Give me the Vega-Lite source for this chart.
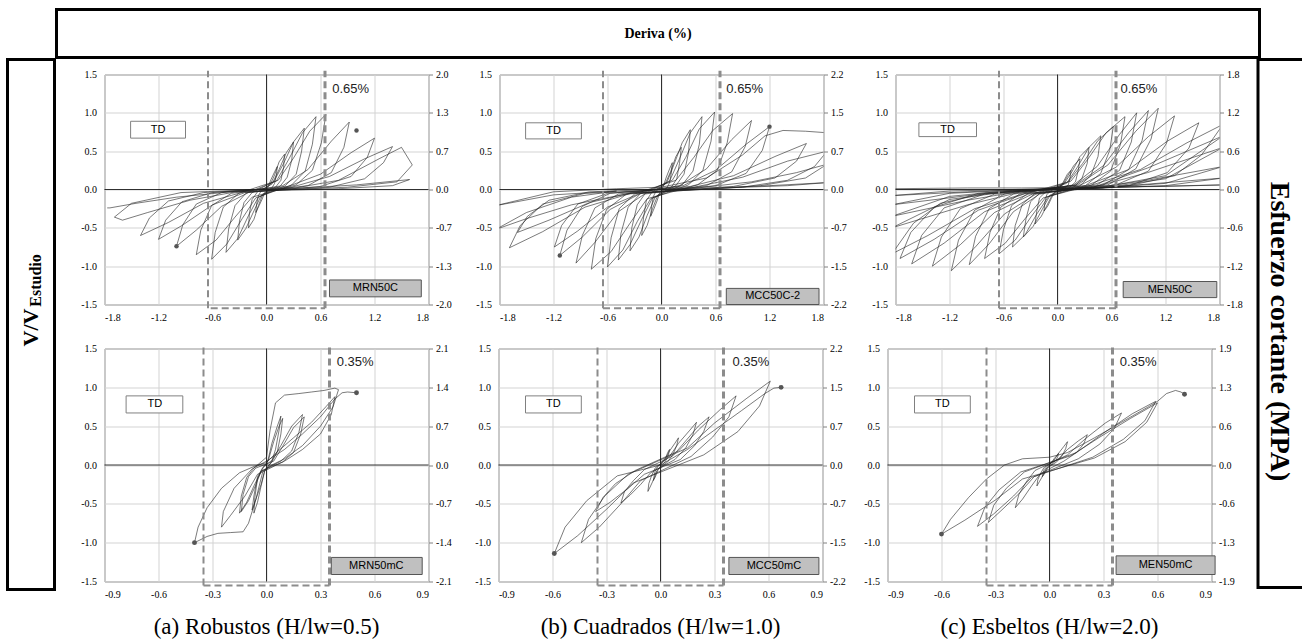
{
"$schema": "https://vega.github.io/schema/vega-lite/v6.json",
"padding": {"left": 5.5, "top": 7.5, "right": 0, "bottom": 0},
"spacing": -3,
"config": {
  "view": {"stroke": null},
  "font": "Liberation Serif",
  "axis": {"labelFont": "Liberation Serif", "labelFontSize": 10, "labelColor": "#000", "ticks": false, "domain": false, "gridColor": "#d3d3d3", "gridWidth": 1, "labelPadding": 8, "labelOverlap": false, "titleFontSize": 0.1},
  "title": {"font": "Liberation Serif", "fontWeight": "normal", "color": "#000"}
},
"datasets": {
"a1": [{"x":0,"y":0},
{"x":0.02,"y":0.04},{"x":0.05,"y":0.13},{"x":0.09,"y":0.23},{"x":0.12,"y":0.30},{"x":0.11,"y":0.19},{"x":0.09,"y":0.08},{"x":0.06,"y":0.02},
{"x":-0.02,"y":-0.04},{"x":-0.05,"y":-0.13},{"x":-0.09,"y":-0.23},{"x":-0.12,"y":-0.30},{"x":-0.11,"y":-0.19},{"x":-0.09,"y":-0.08},{"x":-0.06,"y":-0.02},
{"x":0.04,"y":0.06},{"x":0.09,"y":0.19},{"x":0.14,"y":0.36},{"x":0.20,"y":0.46},{"x":0.19,"y":0.29},{"x":0.16,"y":0.12},{"x":0.10,"y":0.03},
{"x":-0.04,"y":-0.06},{"x":-0.09,"y":-0.21},{"x":-0.14,"y":-0.39},{"x":-0.20,"y":-0.50},{"x":-0.19,"y":-0.31},{"x":-0.16,"y":-0.13},{"x":-0.10,"y":-0.03},
{"x":0.06,"y":0.07},{"x":0.14,"y":0.26},{"x":0.22,"y":0.48},{"x":0.30,"y":0.62},{"x":0.28,"y":0.38},{"x":0.23,"y":0.16},{"x":0.15,"y":0.04},
{"x":-0.06,"y":-0.08},{"x":-0.14,"y":-0.28},{"x":-0.23,"y":-0.51},{"x":-0.32,"y":-0.66},{"x":-0.30,"y":-0.41},{"x":-0.25,"y":-0.17},{"x":-0.16,"y":-0.04},
{"x":0.08,"y":0.10},{"x":0.19,"y":0.34},{"x":0.30,"y":0.62},{"x":0.42,"y":0.80},{"x":0.39,"y":0.50},{"x":0.33,"y":0.20},{"x":0.21,"y":0.05},
{"x":-0.09,"y":-0.10},{"x":-0.20,"y":-0.34},{"x":-0.32,"y":-0.64},{"x":-0.45,"y":-0.82},{"x":-0.42,"y":-0.51},{"x":-0.35,"y":-0.21},{"x":-0.23,"y":-0.05},
{"x":0.11,"y":0.11},{"x":0.25,"y":0.40},{"x":0.40,"y":0.74},{"x":0.55,"y":0.95},{"x":0.51,"y":0.59},{"x":0.43,"y":0.24},{"x":0.28,"y":0.06},
{"x":-0.12,"y":-0.11},{"x":-0.27,"y":-0.38},{"x":-0.44,"y":-0.71},{"x":-0.61,"y":-0.91},{"x":-0.57,"y":-0.56},{"x":-0.48,"y":-0.23},{"x":-0.31,"y":-0.05},
{"x":0.13,"y":0.12},{"x":0.30,"y":0.41},{"x":0.48,"y":0.76},{"x":0.66,"y":0.98},{"x":0.61,"y":0.61},{"x":0.51,"y":0.25},{"x":0.33,"y":0.06},
{"x":-0.16,"y":-0.10},{"x":-0.35,"y":-0.36},{"x":-0.56,"y":-0.66},{"x":-0.78,"y":-0.85},{"x":-0.73,"y":-0.53},{"x":-0.61,"y":-0.21},{"x":-0.39,"y":-0.05},
{"x":0.18,"y":0.05},{"x":0.46,"y":0.26},{"x":0.72,"y":0.63},{"x":0.92,"y":0.88},{"x":0.86,"y":0.55},{"x":0.72,"y":0.22},{"x":0.46,"y":0.05},
{"x":-0.20,"y":-0.04},{"x":-0.50,"y":-0.22},{"x":-0.78,"y":-0.53},{"x":-1.00,"y":-0.74},{"x":-0.93,"y":-0.46},{"x":-0.78,"y":-0.19},{"x":-0.50,"y":-0.04},
{"x":0.24,"y":0.04},{"x":0.60,"y":0.20},{"x":0.94,"y":0.48},{"x":1.20,"y":0.67},{"x":1.12,"y":0.42},{"x":0.94,"y":0.17},{"x":0.60,"y":0.04},
{"x":-0.24,"y":-0.04},{"x":-0.60,"y":-0.20},{"x":-0.94,"y":-0.47},{"x":-1.20,"y":-0.65},{"x":-1.12,"y":-0.40},{"x":-0.94,"y":-0.16},{"x":-0.60,"y":-0.04},
{"x":0.28,"y":0.03},{"x":0.70,"y":0.17},{"x":1.09,"y":0.40},{"x":1.40,"y":0.56},{"x":1.30,"y":0.35},{"x":1.09,"y":0.14},{"x":0.70,"y":0.03},
{"x":-0.28,"y":-0.04},{"x":-0.70,"y":-0.18},{"x":-1.09,"y":-0.43},{"x":-1.40,"y":-0.60},{"x":-1.30,"y":-0.37},{"x":-1.09,"y":-0.15},{"x":-0.70,"y":-0.04},
{"x":0.32,"y":0.02},{"x":0.80,"y":0.12},{"x":1.25,"y":0.40},{"x":1.50,"y":0.55},{"x":1.62,"y":0.32},{"x":1.45,"y":0.10},{"x":0.90,"y":0.03},
{"x":-0.34,"y":-0.03},{"x":-0.85,"y":-0.14},{"x":-1.32,"y":-0.30},{"x":-1.60,"y":-0.40},{"x":-1.69,"y":-0.36},{"x":-1.50,"y":-0.18},{"x":-0.95,"y":-0.04},
{"x":0.40,"y":0.02},{"x":1.00,"y":0.06},{"x":1.59,"y":0.13},{"x":1.40,"y":0.05},{"x":0.80,"y":0.01},
{"x":-0.40,"y":-0.03},{"x":-1.00,"y":-0.10},{"x":-1.45,"y":-0.18},{"x":-1.74,"y":-0.24},{"x":-1.77,"y":-0.24}],
"a1d": [{"x":1.0,"y":0.77},{"x":-1.0,"y":-0.74}],
"a2": [{"x":0,"y":0},
{"x":0.02,"y":0.04},{"x":0.05,"y":0.15},{"x":0.09,"y":0.27},{"x":0.12,"y":0.35},{"x":0.11,"y":0.22},{"x":0.09,"y":0.09},{"x":0.06,"y":0.02},
{"x":-0.02,"y":-0.04},{"x":-0.05,"y":-0.15},{"x":-0.09,"y":-0.27},{"x":-0.12,"y":-0.35},{"x":-0.11,"y":-0.22},{"x":-0.09,"y":-0.09},{"x":-0.06,"y":-0.02},
{"x":0.04,"y":0.07},{"x":0.10,"y":0.23},{"x":0.16,"y":0.43},{"x":0.22,"y":0.55},{"x":0.20,"y":0.34},{"x":0.17,"y":0.14},{"x":0.11,"y":0.03},
{"x":-0.04,"y":-0.07},{"x":-0.10,"y":-0.25},{"x":-0.16,"y":-0.47},{"x":-0.22,"y":-0.60},{"x":-0.20,"y":-0.37},{"x":-0.17,"y":-0.15},{"x":-0.11,"y":-0.04},
{"x":0.06,"y":0.09},{"x":0.14,"y":0.33},{"x":0.23,"y":0.61},{"x":0.32,"y":0.78},{"x":0.30,"y":0.48},{"x":0.25,"y":0.20},{"x":0.16,"y":0.05},
{"x":-0.07,"y":-0.10},{"x":-0.16,"y":-0.34},{"x":-0.25,"y":-0.62},{"x":-0.35,"y":-0.80},{"x":-0.33,"y":-0.50},{"x":-0.27,"y":-0.20},{"x":-0.18,"y":-0.05},
{"x":0.09,"y":0.11},{"x":0.20,"y":0.40},{"x":0.32,"y":0.74},{"x":0.45,"y":0.95},{"x":0.42,"y":0.59},{"x":0.35,"y":0.24},{"x":0.23,"y":0.06},
{"x":-0.10,"y":-0.11},{"x":-0.22,"y":-0.39},{"x":-0.35,"y":-0.72},{"x":-0.48,"y":-0.92},{"x":-0.45,"y":-0.57},{"x":-0.37,"y":-0.23},{"x":-0.24,"y":-0.06},
{"x":0.12,"y":0.12},{"x":0.27,"y":0.42},{"x":0.42,"y":0.79},{"x":0.59,"y":1.01},{"x":0.55,"y":0.63},{"x":0.46,"y":0.25},{"x":0.30,"y":0.06},
{"x":-0.12,"y":-0.12},{"x":-0.27,"y":-0.42},{"x":-0.43,"y":-0.79},{"x":-0.60,"y":-1.01},{"x":-0.56,"y":-0.63},{"x":-0.47,"y":-0.25},{"x":-0.30,"y":-0.06},
{"x":0.16,"y":0.12},{"x":0.36,"y":0.42},{"x":0.57,"y":0.77},{"x":0.79,"y":0.99},{"x":0.73,"y":0.61},{"x":0.62,"y":0.25},{"x":0.40,"y":0.06},
{"x":-0.16,"y":-0.12},{"x":-0.35,"y":-0.44},{"x":-0.56,"y":-0.81},{"x":-0.78,"y":-1.04},{"x":-0.73,"y":-0.64},{"x":-0.61,"y":-0.26},{"x":-0.39,"y":-0.06},
{"x":0.20,"y":0.05},{"x":0.50,"y":0.27},{"x":0.78,"y":0.65},{"x":1.00,"y":0.90},{"x":0.93,"y":0.56},{"x":0.78,"y":0.23},{"x":0.50,"y":0.05},
{"x":-0.19,"y":-0.06},{"x":-0.48,"y":-0.29},{"x":-0.74,"y":-0.69},{"x":-0.95,"y":-0.96},{"x":-0.88,"y":-0.60},{"x":-0.74,"y":-0.24},{"x":-0.48,"y":-0.06},
{"x":0.24,"y":0.05},{"x":0.60,"y":0.25},{"x":0.94,"y":0.59},{"x":1.20,"y":0.82},{"x":1.12,"y":0.51},{"x":0.94,"y":0.21},{"x":0.60,"y":0.05},
{"x":-0.23,"y":-0.05},{"x":-0.57,"y":-0.26},{"x":-0.88,"y":-0.62},{"x":-1.13,"y":-0.86},{"x":-1.05,"y":-0.53},{"x":-0.88,"y":-0.22},{"x":-0.57,"y":-0.05},
{"x":0.32,"y":0.04},{"x":0.80,"y":0.18},{"x":1.26,"y":0.43},{"x":1.61,"y":0.60},{"x":1.50,"y":0.37},{"x":1.26,"y":0.15},{"x":0.80,"y":0.04},
{"x":-0.24,"y":-0.05},{"x":-0.60,"y":-0.23},{"x":-0.93,"y":-0.54},{"x":-1.19,"y":-0.75},{"x":-1.11,"y":-0.47},{"x":-0.93,"y":-0.19},{"x":-0.60,"y":-0.05},
{"x":0.36,"y":0.03},{"x":0.90,"y":0.16},{"x":1.40,"y":0.37},{"x":1.84,"y":0.50},{"x":1.70,"y":0.30},{"x":1.40,"y":0.12},{"x":0.90,"y":0.03},
{"x":-0.32,"y":-0.04},{"x":-0.80,"y":-0.17},{"x":-1.25,"y":-0.40},{"x":-1.60,"y":-0.56},{"x":-1.49,"y":-0.35},{"x":-1.25,"y":-0.14},{"x":-0.80,"y":-0.03},
{"x":0.40,"y":0.02},{"x":1.00,"y":0.10},{"x":1.50,"y":0.22},{"x":1.84,"y":0.33},{"x":1.60,"y":0.15},{"x":1.10,"y":0.05},{"x":0.60,"y":0.01},
{"x":-0.34,"y":-0.05},{"x":-0.85,"y":-0.23},{"x":-1.32,"y":-0.55},{"x":-1.69,"y":-0.76},{"x":-1.57,"y":-0.47},{"x":-1.32,"y":-0.19},{"x":-0.85,"y":-0.05},
{"x":0.50,"y":0.02},{"x":1.20,"y":0.05},{"x":1.84,"y":0.09},{"x":1.40,"y":0.05},{"x":0.70,"y":0.02},
{"x":-0.40,"y":-0.06},{"x":-1.00,"y":-0.20},{"x":-1.50,"y":-0.38},{"x":-1.84,"y":-0.52},{"x":-1.50,"y":-0.30},{"x":-1.00,"y":-0.10},{"x":-0.50,"y":-0.02},
{"x":-1.20,"y":-0.07},{"x":-1.84,"y":-0.21},{"x":-1.20,"y":-0.03},{"x":-0.50,"y":0.01},{"x":0.00,"y":0.03},{"x":0.50,"y":0.15},{"x":0.90,"y":0.45},{"x":1.15,"y":0.70},{"x":1.35,"y":0.77},{"x":1.60,"y":0.76},{"x":1.84,"y":0.74}],
"a2d": [{"x":1.2,"y":0.82},{"x":-1.13,"y":-0.86}],
"a3": [{"x":0,"y":0},
{"x":0.03,"y":0.03},{"x":0.07,"y":0.11},{"x":0.11,"y":0.20},{"x":0.15,"y":0.25},{"x":0.14,"y":0.16},{"x":0.12,"y":0.06},{"x":0.08,"y":0.02},
{"x":-0.03,"y":-0.03},{"x":-0.07,"y":-0.12},{"x":-0.11,"y":-0.22},{"x":-0.15,"y":-0.28},{"x":-0.14,"y":-0.17},{"x":-0.12,"y":-0.07},{"x":-0.08,"y":-0.02},
{"x":0.05,"y":0.05},{"x":0.11,"y":0.17},{"x":0.18,"y":0.31},{"x":0.25,"y":0.40},{"x":0.23,"y":0.25},{"x":0.20,"y":0.10},{"x":0.13,"y":0.02},
{"x":-0.05,"y":-0.05},{"x":-0.11,"y":-0.19},{"x":-0.18,"y":-0.35},{"x":-0.25,"y":-0.45},{"x":-0.23,"y":-0.28},{"x":-0.20,"y":-0.11},{"x":-0.13,"y":-0.03},
{"x":0.07,"y":0.07},{"x":0.16,"y":0.23},{"x":0.25,"y":0.43},{"x":0.35,"y":0.55},{"x":0.33,"y":0.34},{"x":0.27,"y":0.14},{"x":0.18,"y":0.03},
{"x":-0.08,"y":-0.07},{"x":-0.17,"y":-0.26},{"x":-0.27,"y":-0.48},{"x":-0.38,"y":-0.62},{"x":-0.35,"y":-0.38},{"x":-0.30,"y":-0.16},{"x":-0.19,"y":-0.04},
{"x":0.10,"y":0.08},{"x":0.22,"y":0.29},{"x":0.35,"y":0.55},{"x":0.48,"y":0.70},{"x":0.45,"y":0.43},{"x":0.37,"y":0.18},{"x":0.24,"y":0.04},
{"x":-0.10,"y":-0.09},{"x":-0.23,"y":-0.32},{"x":-0.36,"y":-0.59},{"x":-0.50,"y":-0.75},{"x":-0.47,"y":-0.47},{"x":-0.39,"y":-0.19},{"x":-0.25,"y":-0.05},
{"x":0.12,"y":0.10},{"x":0.28,"y":0.34},{"x":0.45,"y":0.64},{"x":0.62,"y":0.82},{"x":0.58,"y":0.51},{"x":0.48,"y":0.21},{"x":0.31,"y":0.05},
{"x":-0.13,"y":-0.10},{"x":-0.29,"y":-0.35},{"x":-0.47,"y":-0.66},{"x":-0.65,"y":-0.84},{"x":-0.60,"y":-0.52},{"x":-0.51,"y":-0.21},{"x":-0.33,"y":-0.05},
{"x":0.15,"y":0.11},{"x":0.34,"y":0.40},{"x":0.54,"y":0.74},{"x":0.75,"y":0.95},{"x":0.70,"y":0.59},{"x":0.59,"y":0.24},{"x":0.38,"y":0.06},
{"x":-0.16,"y":-0.11},{"x":-0.36,"y":-0.38},{"x":-0.58,"y":-0.70},{"x":-0.81,"y":-0.90},{"x":-0.75,"y":-0.56},{"x":-0.63,"y":-0.23},{"x":-0.41,"y":-0.05},
{"x":0.18,"y":0.06},{"x":0.44,"y":0.30},{"x":0.69,"y":0.72},{"x":0.88,"y":1.00},{"x":0.82,"y":0.62},{"x":0.69,"y":0.25},{"x":0.44,"y":0.06},
{"x":-0.20,"y":-0.06},{"x":-0.49,"y":-0.29},{"x":-0.76,"y":-0.71},{"x":-0.98,"y":-0.98},{"x":-0.91,"y":-0.61},{"x":-0.76,"y":-0.25},{"x":-0.49,"y":-0.06},
{"x":0.20,"y":0.06},{"x":0.51,"y":0.31},{"x":0.79,"y":0.74},{"x":1.01,"y":1.03},{"x":0.94,"y":0.64},{"x":0.79,"y":0.26},{"x":0.51,"y":0.06},
{"x":-0.24,"y":-0.06},{"x":-0.59,"y":-0.32},{"x":-0.92,"y":-0.76},{"x":-1.18,"y":-1.06},{"x":-1.10,"y":-0.66},{"x":-0.92,"y":-0.27},{"x":-0.59,"y":-0.06},
{"x":0.22,"y":0.06},{"x":0.56,"y":0.32},{"x":0.87,"y":0.76},{"x":1.12,"y":1.06},{"x":1.04,"y":0.66},{"x":0.87,"y":0.27},{"x":0.56,"y":0.06},
{"x":-0.28,"y":-0.06},{"x":-0.70,"y":-0.30},{"x":-1.08,"y":-0.72},{"x":-1.39,"y":-1.00},{"x":-1.29,"y":-0.62},{"x":-1.08,"y":-0.25},{"x":-0.70,"y":-0.06},
{"x":0.26,"y":0.06},{"x":0.65,"y":0.29},{"x":1.01,"y":0.69},{"x":1.30,"y":0.96},{"x":1.21,"y":0.60},{"x":1.01,"y":0.24},{"x":0.65,"y":0.06},
{"x":-0.32,"y":-0.06},{"x":-0.81,"y":-0.29},{"x":-1.26,"y":-0.70},{"x":-1.62,"y":-0.97},{"x":-1.51,"y":-0.60},{"x":-1.26,"y":-0.24},{"x":-0.81,"y":-0.06},
{"x":0.31,"y":0.05},{"x":0.79,"y":0.26},{"x":1.22,"y":0.63},{"x":1.57,"y":0.87},{"x":1.46,"y":0.54},{"x":1.22,"y":0.22},{"x":0.79,"y":0.05},
{"x":-0.35,"y":-0.05},{"x":-0.88,"y":-0.27},{"x":-1.37,"y":-0.65},{"x":-1.75,"y":-0.90},{"x":-1.63,"y":-0.56},{"x":-1.37,"y":-0.23},{"x":-0.88,"y":-0.05},
{"x":0.36,"y":0.05},{"x":0.92,"y":0.26},{"x":1.44,"y":0.61},{"x":1.84,"y":0.85},{"x":1.60,"y":0.45},{"x":1.30,"y":0.18},{"x":0.80,"y":0.05},
{"x":-0.36,"y":-0.05},{"x":-0.92,"y":-0.25},{"x":-1.44,"y":-0.60},{"x":-1.84,"y":-0.84},{"x":-1.60,"y":-0.44},{"x":-1.30,"y":-0.18},{"x":-0.80,"y":-0.05},
{"x":0.40,"y":0.03},{"x":1.00,"y":0.28},{"x":1.84,"y":0.70},{"x":1.20,"y":0.18},{"x":0.50,"y":0.03},{"x":-0.40,"y":-0.03},{"x":-1.00,"y":-0.20},{"x":-1.84,"y":-0.50},{"x":-1.20,"y":-0.13},{"x":-0.50,"y":-0.02},
{"x":0.40,"y":0.03},{"x":1.00,"y":0.22},{"x":1.84,"y":0.55},{"x":1.20,"y":0.14},{"x":0.50,"y":0.02},{"x":-0.40,"y":-0.02},{"x":-1.00,"y":-0.14},{"x":-1.84,"y":-0.35},{"x":-1.20,"y":-0.09},{"x":-0.50,"y":-0.01},
{"x":0.40,"y":0.02},{"x":1.00,"y":0.12},{"x":1.84,"y":0.30},{"x":1.20,"y":0.08},{"x":0.50,"y":0.02},{"x":-0.40,"y":-0.01},{"x":-1.00,"y":-0.08},{"x":-1.84,"y":-0.20},{"x":-1.20,"y":-0.05},{"x":-0.50,"y":-0.01},
{"x":0.40,"y":0.02},{"x":1.00,"y":0.07},{"x":1.84,"y":0.15},{"x":1.20,"y":0.05},{"x":0.50,"y":0.02},{"x":-0.40,"y":0.00},{"x":-1.00,"y":-0.03},{"x":-1.84,"y":-0.08},{"x":-1.20,"y":-0.02},{"x":-0.50,"y":0.00},
{"x":0.40,"y":0.02},{"x":1.00,"y":0.04},{"x":1.84,"y":0.06},{"x":1.20,"y":0.04},{"x":0.50,"y":0.03},{"x":-0.40,"y":0.02},{"x":-1.00,"y":0.02},{"x":-1.84,"y":0.01}],
"b1": [{"x":0,"y":0},
{"x":0.01,"y":0.08},{"x":0.03,"y":0.28},{"x":0.06,"y":0.50},{"x":0.08,"y":0.63},{"x":0.07,"y":0.45},{"x":0.05,"y":0.20},{"x":0.03,"y":0.05},
{"x":-0.01,"y":-0.08},{"x":-0.03,"y":-0.27},{"x":-0.05,"y":-0.48},{"x":-0.07,"y":-0.62},{"x":-0.065,"y":-0.42},{"x":-0.05,"y":-0.18},{"x":-0.02,"y":-0.04},
{"x":0.01,"y":0.06},{"x":0.04,"y":0.30},{"x":0.07,"y":0.50},{"x":0.09,"y":0.60},{"x":0.08,"y":0.40},{"x":0.06,"y":0.17},{"x":0.03,"y":0.04},
{"x":-0.01,"y":-0.07},{"x":-0.03,"y":-0.25},{"x":-0.06,"y":-0.45},{"x":-0.08,"y":-0.58},{"x":-0.07,"y":-0.40},{"x":-0.05,"y":-0.15},{"x":-0.02,"y":-0.03},
{"x":0.03,"y":0.06},{"x":0.08,"y":0.25},{"x":0.14,"y":0.50},{"x":0.20,"y":0.65},{"x":0.18,"y":0.42},{"x":0.14,"y":0.18},{"x":0.08,"y":0.05},
{"x":-0.03,"y":-0.08},{"x":-0.06,"y":-0.26},{"x":-0.10,"y":-0.46},{"x":-0.14,"y":-0.60},{"x":-0.13,"y":-0.38},{"x":-0.10,"y":-0.15},{"x":-0.06,"y":-0.04},
{"x":0.04,"y":0.05},{"x":0.09,"y":0.24},{"x":0.15,"y":0.48},{"x":0.21,"y":0.62},{"x":0.19,"y":0.40},{"x":0.15,"y":0.16},{"x":0.09,"y":0.04},
{"x":-0.03,"y":-0.08},{"x":-0.07,"y":-0.27},{"x":-0.11,"y":-0.48},{"x":-0.15,"y":-0.62},{"x":-0.14,"y":-0.40},{"x":-0.11,"y":-0.16},{"x":-0.07,"y":-0.04},
{"x":0.00,"y":0.10},{"x":0.02,"y":0.45},{"x":0.05,"y":0.80},{"x":0.10,"y":0.90},{"x":0.18,"y":0.92},{"x":0.25,"y":0.94},{"x":0.32,"y":0.96},{"x":0.38,"y":0.99},{"x":0.40,"y":0.97},{"x":0.37,"y":0.75},{"x":0.30,"y":0.50},{"x":0.20,"y":0.25},{"x":0.10,"y":0.08},{"x":0.03,"y":0.00},
{"x":-0.02,"y":-0.08},{"x":-0.06,"y":-0.45},{"x":-0.10,"y":-0.75},{"x":-0.13,"y":-0.86},{"x":-0.20,"y":-0.87},{"x":-0.27,"y":-0.88},{"x":-0.33,"y":-0.92},{"x":-0.40,"y":-1.00},{"x":-0.38,"y":-0.80},{"x":-0.33,"y":-0.55},{"x":-0.25,"y":-0.30},{"x":-0.15,"y":-0.10},{"x":-0.05,"y":0.00},{"x":0.00,"y":0.03},
{"x":0.05,"y":0.15},{"x":0.15,"y":0.35},{"x":0.25,"y":0.55},{"x":0.33,"y":0.75},{"x":0.38,"y":0.88},{"x":0.36,"y":0.65},{"x":0.30,"y":0.40},{"x":0.20,"y":0.20},{"x":0.10,"y":0.05},
{"x":-0.05,"y":-0.12},{"x":-0.12,"y":-0.40},{"x":-0.20,"y":-0.65},{"x":-0.25,"y":-0.80},{"x":-0.24,"y":-0.60},{"x":-0.18,"y":-0.30},{"x":-0.08,"y":-0.05},
{"x":0.00,"y":0.05},{"x":0.10,"y":0.20},{"x":0.20,"y":0.40},{"x":0.30,"y":0.62},{"x":0.38,"y":0.85},{"x":0.42,"y":0.93},{"x":0.45,"y":0.94},{"x":0.50,"y":0.93}],
"b1d": [{"x":0.50,"y":0.93},{"x":-0.40,"y":-1.0}],
"b2": [{"x":0,"y":0},
{"x":0.01,"y":0.04},{"x":0.03,"y":0.10},{"x":0.04,"y":0.16},{"x":0.05,"y":0.20},{"x":0.045,"y":0.14},{"x":0.035,"y":0.08},{"x":0.02,"y":0.02},
{"x":-0.01,"y":-0.04},{"x":-0.02,"y":-0.10},{"x":-0.03,"y":-0.16},{"x":-0.04,"y":-0.20},{"x":-0.035,"y":-0.14},{"x":-0.03,"y":-0.08},{"x":-0.015,"y":-0.02},
{"x":0.025,"y":0.07},{"x":0.05,"y":0.18},{"x":0.08,"y":0.28},{"x":0.10,"y":0.35},{"x":0.09,"y":0.25},{"x":0.07,"y":0.14},{"x":0.04,"y":0.04},
{"x":-0.02,"y":-0.07},{"x":-0.035,"y":-0.17},{"x":-0.055,"y":-0.27},{"x":-0.07,"y":-0.34},{"x":-0.065,"y":-0.24},{"x":-0.05,"y":-0.14},{"x":-0.03,"y":-0.04},
{"x":0.05,"y":0.11},{"x":0.10,"y":0.28},{"x":0.16,"y":0.44},{"x":0.20,"y":0.55},{"x":0.18,"y":0.39},{"x":0.14,"y":0.22},{"x":0.08,"y":0.07},
{"x":-0.055,"y":-0.10},{"x":-0.11,"y":-0.25},{"x":-0.17,"y":-0.39},{"x":-0.22,"y":-0.49},{"x":-0.20,"y":-0.34},{"x":-0.15,"y":-0.20},{"x":-0.09,"y":-0.06},
{"x":0.07,"y":0.12},{"x":0.14,"y":0.31},{"x":0.21,"y":0.50},{"x":0.27,"y":0.62},{"x":0.24,"y":0.43},{"x":0.19,"y":0.25},{"x":0.11,"y":0.07},
{"x":-0.09,"y":-0.12},{"x":-0.18,"y":-0.30},{"x":-0.28,"y":-0.48},{"x":-0.36,"y":-0.60},{"x":-0.32,"y":-0.42},{"x":-0.25,"y":-0.24},{"x":-0.14,"y":-0.07},
{"x":0.10,"y":0.18},{"x":0.21,"y":0.45},{"x":0.33,"y":0.71},{"x":0.42,"y":0.89},{"x":0.38,"y":0.62},{"x":0.29,"y":0.36},{"x":0.17,"y":0.11},
{"x":-0.11,"y":-0.20},{"x":-0.22,"y":-0.50},{"x":-0.34,"y":-0.80},{"x":-0.44,"y":-1.00},{"x":-0.40,"y":-0.70},{"x":-0.31,"y":-0.40},{"x":-0.18,"y":-0.12},
{"x":0.15,"y":0.22},{"x":0.30,"y":0.54},{"x":0.48,"y":0.86},{"x":0.61,"y":1.08},{"x":0.55,"y":0.76},{"x":0.43,"y":0.43},{"x":0.24,"y":0.13},
{"x":-0.15,"y":-0.23},{"x":-0.30,"y":-0.57},{"x":-0.46,"y":-0.91},{"x":-0.59,"y":-1.14},{"x":-0.53,"y":-0.80},{"x":-0.41,"y":-0.46},{"x":-0.24,"y":-0.14},
{"x":0.00,"y":0.00},{"x":0.15,"y":0.20},{"x":0.30,"y":0.45},{"x":0.45,"y":0.70},{"x":0.58,"y":0.92},{"x":0.63,"y":0.99},{"x":0.67,"y":1.00}],
"b2d": [{"x":0.67,"y":1.0},{"x":-0.59,"y":-1.14}],
"b3": [{"x":0,"y":0},
{"x":0.01,"y":0.03},{"x":0.025,"y":0.08},{"x":0.04,"y":0.12},{"x":0.05,"y":0.15},{"x":0.045,"y":0.10},{"x":0.035,"y":0.06},{"x":0.02,"y":0.02},
{"x":-0.01,"y":-0.03},{"x":-0.02,"y":-0.08},{"x":-0.03,"y":-0.12},{"x":-0.04,"y":-0.15},{"x":-0.035,"y":-0.10},{"x":-0.03,"y":-0.06},{"x":-0.015,"y":-0.02},
{"x":0.025,"y":0.06},{"x":0.05,"y":0.15},{"x":0.08,"y":0.24},{"x":0.10,"y":0.30},{"x":0.09,"y":0.21},{"x":0.07,"y":0.12},{"x":0.04,"y":0.04},
{"x":-0.02,"y":-0.05},{"x":-0.035,"y":-0.13},{"x":-0.055,"y":-0.21},{"x":-0.07,"y":-0.27},{"x":-0.065,"y":-0.19},{"x":-0.05,"y":-0.11},{"x":-0.03,"y":-0.03},
{"x":0.05,"y":0.08},{"x":0.10,"y":0.20},{"x":0.16,"y":0.31},{"x":0.21,"y":0.39},{"x":0.19,"y":0.27},{"x":0.15,"y":0.16},{"x":0.08,"y":0.05},
{"x":-0.05,"y":-0.11},{"x":-0.10,"y":-0.27},{"x":-0.15,"y":-0.44},{"x":-0.19,"y":-0.55},{"x":-0.17,"y":-0.38},{"x":-0.13,"y":-0.22},{"x":-0.08,"y":-0.07},
{"x":0.10,"y":0.13},{"x":0.20,"y":0.34},{"x":0.31,"y":0.54},{"x":0.40,"y":0.67},{"x":0.36,"y":0.47},{"x":0.28,"y":0.27},{"x":0.16,"y":0.08},
{"x":-0.085,"y":-0.15},{"x":-0.17,"y":-0.37},{"x":-0.27,"y":-0.59},{"x":-0.34,"y":-0.74},{"x":-0.31,"y":-0.52},{"x":-0.24,"y":-0.30},{"x":-0.14,"y":-0.09},
{"x":0.15,"y":0.16},{"x":0.30,"y":0.41},{"x":0.46,"y":0.66},{"x":0.59,"y":0.82},{"x":0.53,"y":0.57},{"x":0.41,"y":0.33},{"x":0.24,"y":0.10},
{"x":-0.10,"y":-0.16},{"x":-0.20,"y":-0.40},{"x":-0.31,"y":-0.63},{"x":-0.40,"y":-0.79},{"x":-0.36,"y":-0.55},{"x":-0.28,"y":-0.32},{"x":-0.16,"y":-0.09},
{"x":0.12,"y":0.12},{"x":0.28,"y":0.36},{"x":0.45,"y":0.60},{"x":0.60,"y":0.80},{"x":0.54,"y":0.55},{"x":0.42,"y":0.30},{"x":0.25,"y":0.09},
{"x":-0.15,"y":-0.18},{"x":-0.30,"y":-0.45},{"x":-0.47,"y":-0.71},{"x":-0.60,"y":-0.89},{"x":-0.55,"y":-0.70},{"x":-0.45,"y":-0.42},{"x":-0.35,"y":-0.18},{"x":-0.25,"y":0.00},{"x":-0.15,"y":0.08},{"x":0.00,"y":0.10},
{"x":0.10,"y":0.16},{"x":0.25,"y":0.35},{"x":0.40,"y":0.55},{"x":0.55,"y":0.75},{"x":0.60,"y":0.82},{"x":0.65,"y":0.92},{"x":0.70,"y":0.96},{"x":0.73,"y":0.94},{"x":0.75,"y":0.91}],
"b3d": [{"x":0.75,"y":0.91},{"x":-0.60,"y":-0.89}]
},
"vconcat": [
 {"spacing": 0, "bounds": "flush", "hconcat": [
   {"width": 48.5, "height": 48, "data": {"values": []}, "mark": "point", "encoding": {}},
   {"width": 1203, "height": 48, "view": {"stroke": "#000", "strokeWidth": 3}, "data": {"values": [{}]},
    "mark": {"type": "text", "text": "Deriva (%)", "font": "Liberation Serif", "fontWeight": "bold", "fontSize": 14, "color": "#000"}, "encoding": {}}
 ]},
 {"spacing": -1.5, "hconcat": [
   {"width": 47, "height": 530, "view": {"stroke": "#000", "strokeWidth": 3}, "data": {"values": [{}]},
    "layer": [
     {"mark": {"type": "text", "text": "V/V", "angle": 270, "font": "Liberation Serif", "fontWeight": "bold", "fontSize": 22, "dx": -3, "color": "#000"}, "encoding": {}},
     {"mark": {"type": "text", "text": "Estudio", "angle": 270, "font": "Liberation Serif", "fontWeight": "bold", "fontSize": 16, "dx": 44, "dy": 5, "color": "#000"}, "encoding": {}}
    ]},
   {"spacing": 0, "vconcat": [
     {"width": 10, "height": 9, "data": {"values": []}, "mark": "point", "encoding": {}},
     {"spacing": 0, "bounds": "flush", "hconcat": [
       {"width": 48, "height": 10, "data": {"values": []}, "mark": "point", "encoding": {}},
       {"width": 324, "height": 230, "view": {"stroke": "#808080", "strokeWidth": 1}, "resolve": {"scale": {"y": "independent"}},
        "layer": [
         {"layer": [
           {"data": {"values": [{}]}, "mark": {"type": "rule", "color": "#000", "strokeWidth": 0.8}, "encoding": {"x": {"datum": 0}}},
           {"data": {"values": [{}]}, "mark": {"type": "rule", "color": "#000", "strokeWidth": 0.8}, "encoding": {"y": {"datum": 0}}},
           {"data": {"name": "a1"}, "mark": {"type": "line", "color": "#222", "strokeWidth": 0.6, "clip": true},
            "encoding": {
             "x": {"field": "x", "type": "quantitative", "title": null, "scale": {"domain": [-1.8, 1.8], "nice": false, "zero": false}, "axis": {"values": [-1.8, -1.2, -0.6, 0, 0.6, 1.2, 1.8], "tickCount": 20, "grid": true, "labelExpr": "replace(format(datum.value,'.1f'),'−','-')"}},
             "y": {"field": "y", "type": "quantitative", "title": null, "scale": {"domain": [-1.5, 1.5], "nice": false, "zero": false}, "axis": {"values": [-1.5, -1, -0.5, 0, 0.5, 1, 1.5], "tickCount": 20, "grid": true, "labelExpr": "replace(format(datum.value,'.1f'),'−','-')"}},
             "order": {"value": null}}},
           {"data": {"name": "a1d"}, "mark": {"type": "circle", "color": "#555", "size": 20, "opacity": 1}, "encoding": {"x": {"field": "x", "type": "quantitative"}, "y": {"field": "y", "type": "quantitative"}}},
           {"data": {"values": [{}]}, "mark": {"type": "rule", "color": "#8c8c8c", "strokeWidth": 2, "strokeDash": [7, 4]}, "encoding": {"x": {"datum": -0.65}, "y": {"datum": -1.55}, "y2": {"datum": 1.55}}},
           {"data": {"values": [{}]}, "mark": {"type": "rule", "color": "#8c8c8c", "strokeWidth": 3, "strokeDash": [7, 4]}, "encoding": {"x": {"datum": 0.65}, "y": {"datum": -1.55}, "y2": {"datum": 1.55}}},
           {"data": {"values": [{}]}, "mark": {"type": "rule", "color": "#8c8c8c", "strokeWidth": 2, "strokeDash": [7, 4]}, "encoding": {"x": {"datum": -0.62}, "x2": {"datum": 0.65}, "y": {"datum": -1.55}}},
           {"data": {"values": [{}]}, "mark": {"type": "text", "text": "0.65%", "align": "left", "font": "Liberation Sans", "fontSize": 13, "color": "#222"}, "encoding": {"x": {"datum": 0.73}, "y": {"datum": 1.31}}},
           {"data": {"values": [{}]}, "mark": {"type": "rect", "fill": "#fff", "stroke": "#808080", "strokeWidth": 1}, "encoding": {"x": {"datum": -1.51}, "x2": {"datum": -0.9}, "y": {"datum": 0.67}, "y2": {"datum": 0.89}}},
           {"data": {"values": [{}]}, "mark": {"type": "text", "text": "TD", "font": "Liberation Sans", "fontSize": 11, "color": "#000"}, "encoding": {"x": {"datum": -1.205}, "y": {"datum": 0.78}}},
           {"data": {"values": [{}]}, "mark": {"type": "rect", "fill": "#c0c0c0", "stroke": "#555", "strokeWidth": 1}, "encoding": {"x": {"datum": 0.70}, "x2": {"datum": 1.72}, "y": {"datum": -1.40}, "y2": {"datum": -1.18}}},
           {"data": {"values": [{}]}, "mark": {"type": "text", "text": "MRN50C", "font": "Liberation Sans", "fontSize": 11, "color": "#000"}, "encoding": {"x": {"datum": 1.21}, "y": {"datum": -1.29}}}
         ]},
         {"data": {"values": [{"r": 0}]}, "mark": {"type": "point", "opacity": 0}, "encoding": {"y": {"field": "r", "type": "quantitative", "title": null, "scale": {"domain": [-2, 2], "nice": false, "zero": false}, "axis": {"orient": "right", "values": [-2, -1.3333, -0.6667, 0, 0.6667, 1.3333, 2], "tickCount": 20, "labelExpr": "replace(format(datum.value,'.1f'),'−','-')", "grid": false, "ticks": true, "tickSize": 4, "tickColor": "#808080", "labelPadding": 3}}}}
        ]},
       {"width": 71, "height": 10, "data": {"values": []}, "mark": "point", "encoding": {}},
       {"width": 324, "height": 230, "view": {"stroke": "#808080", "strokeWidth": 1}, "resolve": {"scale": {"y": "independent"}},
        "layer": [
         {"layer": [
           {"data": {"values": [{}]}, "mark": {"type": "rule", "color": "#000", "strokeWidth": 0.8}, "encoding": {"x": {"datum": 0}}},
           {"data": {"values": [{}]}, "mark": {"type": "rule", "color": "#000", "strokeWidth": 0.8}, "encoding": {"y": {"datum": 0}}},
           {"data": {"name": "a2"}, "mark": {"type": "line", "color": "#222", "strokeWidth": 0.6, "clip": true},
            "encoding": {
             "x": {"field": "x", "type": "quantitative", "title": null, "scale": {"domain": [-1.8, 1.8], "nice": false, "zero": false}, "axis": {"values": [-1.8, -1.2, -0.6, 0, 0.6, 1.2, 1.8], "tickCount": 20, "grid": true, "labelExpr": "replace(format(datum.value,'.1f'),'−','-')"}},
             "y": {"field": "y", "type": "quantitative", "title": null, "scale": {"domain": [-1.5, 1.5], "nice": false, "zero": false}, "axis": {"values": [-1.5, -1, -0.5, 0, 0.5, 1, 1.5], "tickCount": 20, "grid": true, "labelExpr": "replace(format(datum.value,'.1f'),'−','-')"}},
             "order": {"value": null}}},
           {"data": {"name": "a2d"}, "mark": {"type": "circle", "color": "#555", "size": 20, "opacity": 1}, "encoding": {"x": {"field": "x", "type": "quantitative"}, "y": {"field": "y", "type": "quantitative"}}},
           {"data": {"values": [{}]}, "mark": {"type": "rule", "color": "#8c8c8c", "strokeWidth": 2, "strokeDash": [7, 4]}, "encoding": {"x": {"datum": -0.65}, "y": {"datum": -1.55}, "y2": {"datum": 1.55}}},
           {"data": {"values": [{}]}, "mark": {"type": "rule", "color": "#8c8c8c", "strokeWidth": 3, "strokeDash": [7, 4]}, "encoding": {"x": {"datum": 0.65}, "y": {"datum": -1.55}, "y2": {"datum": 1.55}}},
           {"data": {"values": [{}]}, "mark": {"type": "rule", "color": "#8c8c8c", "strokeWidth": 2, "strokeDash": [7, 4]}, "encoding": {"x": {"datum": -0.65}, "x2": {"datum": 0.65}, "y": {"datum": -1.55}}},
           {"data": {"values": [{}]}, "mark": {"type": "text", "text": "0.65%", "align": "left", "font": "Liberation Sans", "fontSize": 13, "color": "#222"}, "encoding": {"x": {"datum": 0.72}, "y": {"datum": 1.31}}},
           {"data": {"values": [{}]}, "mark": {"type": "rect", "fill": "#fff", "stroke": "#808080", "strokeWidth": 1}, "encoding": {"x": {"datum": -1.51}, "x2": {"datum": -0.89}, "y": {"datum": 0.66}, "y2": {"datum": 0.87}}},
           {"data": {"values": [{}]}, "mark": {"type": "text", "text": "TD", "font": "Liberation Sans", "fontSize": 11, "color": "#000"}, "encoding": {"x": {"datum": -1.2}, "y": {"datum": 0.765}}},
           {"data": {"values": [{}]}, "mark": {"type": "rect", "fill": "#c0c0c0", "stroke": "#555", "strokeWidth": 1}, "encoding": {"x": {"datum": 0.72}, "x2": {"datum": 1.75}, "y": {"datum": -1.50}, "y2": {"datum": -1.29}}},
           {"data": {"values": [{}]}, "mark": {"type": "text", "text": "MCC50C-2", "font": "Liberation Sans", "fontSize": 11, "color": "#000"}, "encoding": {"x": {"datum": 1.235}, "y": {"datum": -1.395}}}
         ]},
         {"data": {"values": [{"r": 0}]}, "mark": {"type": "point", "opacity": 0}, "encoding": {"y": {"field": "r", "type": "quantitative", "title": null, "scale": {"domain": [-2.2, 2.2], "nice": false, "zero": false}, "axis": {"orient": "right", "values": [-2.2, -1.4667, -0.7333, 0, 0.7333, 1.4667, 2.2], "tickCount": 20, "labelExpr": "replace(format(datum.value,'.1f'),'−','-')", "grid": false, "ticks": true, "tickSize": 4, "tickColor": "#808080", "labelPadding": 3}}}}
        ]},
       {"width": 72, "height": 10, "data": {"values": []}, "mark": "point", "encoding": {}},
       {"width": 324, "height": 230, "view": {"stroke": "#808080", "strokeWidth": 1}, "resolve": {"scale": {"y": "independent"}},
        "layer": [
         {"layer": [
           {"data": {"values": [{}]}, "mark": {"type": "rule", "color": "#000", "strokeWidth": 0.8}, "encoding": {"x": {"datum": 0}}},
           {"data": {"values": [{}]}, "mark": {"type": "rule", "color": "#000", "strokeWidth": 0.8}, "encoding": {"y": {"datum": 0}}},
           {"data": {"name": "a3"}, "mark": {"type": "line", "color": "#222", "strokeWidth": 0.6, "clip": true},
            "encoding": {
             "x": {"field": "x", "type": "quantitative", "title": null, "scale": {"domain": [-1.8, 1.8], "nice": false, "zero": false}, "axis": {"values": [-1.8, -1.2, -0.6, 0, 0.6, 1.2, 1.8], "tickCount": 20, "grid": true, "labelExpr": "replace(format(datum.value,'.1f'),'−','-')"}},
             "y": {"field": "y", "type": "quantitative", "title": null, "scale": {"domain": [-1.5, 1.5], "nice": false, "zero": false}, "axis": {"values": [-1.5, -1, -0.5, 0, 0.5, 1, 1.5], "tickCount": 20, "grid": true, "labelExpr": "replace(format(datum.value,'.1f'),'−','-')"}},
             "order": {"value": null}}},
           {"data": {"values": [{}]}, "mark": {"type": "rule", "color": "#8c8c8c", "strokeWidth": 2, "strokeDash": [7, 4]}, "encoding": {"x": {"datum": -0.65}, "y": {"datum": -1.55}, "y2": {"datum": 1.55}}},
           {"data": {"values": [{}]}, "mark": {"type": "rule", "color": "#8c8c8c", "strokeWidth": 3, "strokeDash": [7, 4]}, "encoding": {"x": {"datum": 0.65}, "y": {"datum": -1.55}, "y2": {"datum": 1.55}}},
           {"data": {"values": [{}]}, "mark": {"type": "rule", "color": "#8c8c8c", "strokeWidth": 2, "strokeDash": [7, 4]}, "encoding": {"x": {"datum": -0.65}, "x2": {"datum": 0.65}, "y": {"datum": -1.55}}},
           {"data": {"values": [{}]}, "mark": {"type": "text", "text": "0.65%", "align": "left", "font": "Liberation Sans", "fontSize": 13, "color": "#222"}, "encoding": {"x": {"datum": 0.70}, "y": {"datum": 1.31}}},
           {"data": {"values": [{}]}, "mark": {"type": "rect", "fill": "#fff", "stroke": "#808080", "strokeWidth": 1}, "encoding": {"x": {"datum": -1.54}, "x2": {"datum": -0.9}, "y": {"datum": 0.69}, "y2": {"datum": 0.87}}},
           {"data": {"values": [{}]}, "mark": {"type": "text", "text": "TD", "font": "Liberation Sans", "fontSize": 11, "color": "#000"}, "encoding": {"x": {"datum": -1.22}, "y": {"datum": 0.78}}},
           {"data": {"values": [{}]}, "mark": {"type": "rect", "fill": "#c0c0c0", "stroke": "#555", "strokeWidth": 1}, "encoding": {"x": {"datum": 0.73}, "x2": {"datum": 1.77}, "y": {"datum": -1.41}, "y2": {"datum": -1.20}}},
           {"data": {"values": [{}]}, "mark": {"type": "text", "text": "MEN50C", "font": "Liberation Sans", "fontSize": 11, "color": "#000"}, "encoding": {"x": {"datum": 1.25}, "y": {"datum": -1.305}}}
         ]},
         {"data": {"values": [{"r": 0}]}, "mark": {"type": "point", "opacity": 0}, "encoding": {"y": {"field": "r", "type": "quantitative", "title": null, "scale": {"domain": [-1.8, 1.8], "nice": false, "zero": false}, "axis": {"orient": "right", "values": [-1.8, -1.2, -0.6, 0, 0.6, 1.2, 1.8], "tickCount": 20, "labelExpr": "replace(format(datum.value,'.1f'),'−','-')", "grid": false, "ticks": true, "tickSize": 4, "tickColor": "#808080", "labelPadding": 3}}}}
        ]},
       {"width": 38, "height": 10, "data": {"values": []}, "mark": "point", "encoding": {}}
     ]},
     {"width": 10, "height": 19, "data": {"values": []}, "mark": "point", "encoding": {}},
     {"spacing": 0, "bounds": "flush", "hconcat": [
       {"width": 48, "height": 10, "data": {"values": []}, "mark": "point", "encoding": {}},
       {"width": 324, "height": 233, "view": {"stroke": "#808080", "strokeWidth": 1}, "resolve": {"scale": {"y": "independent"}},
        "title": {"text": "(a) Robustos (H/lw=0.5)", "orient": "bottom", "fontSize": 23, "offset": 16, "anchor": "middle", "frame": "group"},
        "layer": [
         {"layer": [
           {"data": {"values": [{}]}, "mark": {"type": "rule", "color": "#000", "strokeWidth": 0.8}, "encoding": {"x": {"datum": 0}}},
           {"data": {"values": [{}]}, "mark": {"type": "rule", "color": "#000", "strokeWidth": 0.8}, "encoding": {"y": {"datum": 0}}},
           {"data": {"name": "b1"}, "mark": {"type": "line", "color": "#222", "strokeWidth": 0.6, "clip": true},
            "encoding": {
             "x": {"field": "x", "type": "quantitative", "title": null, "scale": {"domain": [-0.9, 0.9], "nice": false, "zero": false}, "axis": {"values": [-0.9, -0.6, -0.3, 0, 0.3, 0.6, 0.9], "tickCount": 20, "grid": true, "labelExpr": "replace(format(datum.value,'.1f'),'−','-')"}},
             "y": {"field": "y", "type": "quantitative", "title": null, "scale": {"domain": [-1.5, 1.5], "nice": false, "zero": false}, "axis": {"values": [-1.5, -1, -0.5, 0, 0.5, 1, 1.5], "tickCount": 20, "grid": true, "labelExpr": "replace(format(datum.value,'.1f'),'−','-')"}},
             "order": {"value": null}}},
           {"data": {"name": "b1d"}, "mark": {"type": "circle", "color": "#555", "size": 24, "opacity": 1}, "encoding": {"x": {"field": "x", "type": "quantitative"}, "y": {"field": "y", "type": "quantitative"}}},
           {"data": {"values": [{}]}, "mark": {"type": "rule", "color": "#8c8c8c", "strokeWidth": 2, "strokeDash": [7, 4]}, "encoding": {"x": {"datum": -0.35}, "y": {"datum": -1.55}, "y2": {"datum": 1.55}}},
           {"data": {"values": [{}]}, "mark": {"type": "rule", "color": "#8c8c8c", "strokeWidth": 3, "strokeDash": [7, 4]}, "encoding": {"x": {"datum": 0.35}, "y": {"datum": -1.55}, "y2": {"datum": 1.55}}},
           {"data": {"values": [{}]}, "mark": {"type": "rule", "color": "#8c8c8c", "strokeWidth": 2, "strokeDash": [7, 4]}, "encoding": {"x": {"datum": -0.35}, "x2": {"datum": 0.35}, "y": {"datum": -1.55}}},
           {"data": {"values": [{}]}, "mark": {"type": "text", "text": "0.35%", "align": "left", "font": "Liberation Sans", "fontSize": 13, "color": "#222"}, "encoding": {"x": {"datum": 0.39}, "y": {"datum": 1.32}}},
           {"data": {"values": [{}]}, "mark": {"type": "rect", "fill": "#fff", "stroke": "#808080", "strokeWidth": 1}, "encoding": {"x": {"datum": -0.78}, "x2": {"datum": -0.465}, "y": {"datum": 0.67}, "y2": {"datum": 0.89}}},
           {"data": {"values": [{}]}, "mark": {"type": "text", "text": "TD", "font": "Liberation Sans", "fontSize": 11, "color": "#000"}, "encoding": {"x": {"datum": -0.62}, "y": {"datum": 0.78}}},
           {"data": {"values": [{}]}, "mark": {"type": "rect", "fill": "#c0c0c0", "stroke": "#555", "strokeWidth": 1}, "encoding": {"x": {"datum": 0.36}, "x2": {"datum": 0.865}, "y": {"datum": -1.41}, "y2": {"datum": -1.19}}},
           {"data": {"values": [{}]}, "mark": {"type": "text", "text": "MRN50mC", "font": "Liberation Sans", "fontSize": 11, "color": "#000"}, "encoding": {"x": {"datum": 0.61}, "y": {"datum": -1.30}}}
         ]},
         {"data": {"values": [{"r": 0}]}, "mark": {"type": "point", "opacity": 0}, "encoding": {"y": {"field": "r", "type": "quantitative", "title": null, "scale": {"domain": [-2.1, 2.1], "nice": false, "zero": false}, "axis": {"orient": "right", "values": [-2.1, -1.4, -0.7, 0, 0.7, 1.4, 2.1], "tickCount": 20, "labelExpr": "replace(format(datum.value,'.1f'),'−','-')", "grid": false, "ticks": true, "tickSize": 4, "tickColor": "#808080", "labelPadding": 3}}}}
        ]},
       {"width": 70, "height": 10, "data": {"values": []}, "mark": "point", "encoding": {}},
       {"width": 324, "height": 233, "view": {"stroke": "#808080", "strokeWidth": 1}, "resolve": {"scale": {"y": "independent"}},
        "title": {"text": "(b) Cuadrados (H/lw=1.0)", "orient": "bottom", "fontSize": 23, "offset": 16, "anchor": "middle", "frame": "group"},
        "layer": [
         {"layer": [
           {"data": {"values": [{}]}, "mark": {"type": "rule", "color": "#000", "strokeWidth": 0.8}, "encoding": {"x": {"datum": 0}}},
           {"data": {"values": [{}]}, "mark": {"type": "rule", "color": "#000", "strokeWidth": 0.8}, "encoding": {"y": {"datum": 0}}},
           {"data": {"name": "b2"}, "mark": {"type": "line", "color": "#222", "strokeWidth": 0.6, "clip": true},
            "encoding": {
             "x": {"field": "x", "type": "quantitative", "title": null, "scale": {"domain": [-0.9, 0.9], "nice": false, "zero": false}, "axis": {"values": [-0.9, -0.6, -0.3, 0, 0.3, 0.6, 0.9], "tickCount": 20, "grid": true, "labelExpr": "replace(format(datum.value,'.1f'),'−','-')"}},
             "y": {"field": "y", "type": "quantitative", "title": null, "scale": {"domain": [-1.5, 1.5], "nice": false, "zero": false}, "axis": {"values": [-1.5, -1, -0.5, 0, 0.5, 1, 1.5], "tickCount": 20, "grid": true, "labelExpr": "replace(format(datum.value,'.1f'),'−','-')"}},
             "order": {"value": null}}},
           {"data": {"name": "b2d"}, "mark": {"type": "circle", "color": "#555", "size": 24, "opacity": 1}, "encoding": {"x": {"field": "x", "type": "quantitative"}, "y": {"field": "y", "type": "quantitative"}}},
           {"data": {"values": [{}]}, "mark": {"type": "rule", "color": "#8c8c8c", "strokeWidth": 2, "strokeDash": [7, 4]}, "encoding": {"x": {"datum": -0.35}, "y": {"datum": -1.55}, "y2": {"datum": 1.55}}},
           {"data": {"values": [{}]}, "mark": {"type": "rule", "color": "#8c8c8c", "strokeWidth": 3, "strokeDash": [7, 4]}, "encoding": {"x": {"datum": 0.35}, "y": {"datum": -1.55}, "y2": {"datum": 1.55}}},
           {"data": {"values": [{}]}, "mark": {"type": "rule", "color": "#8c8c8c", "strokeWidth": 2, "strokeDash": [7, 4]}, "encoding": {"x": {"datum": -0.35}, "x2": {"datum": 0.35}, "y": {"datum": -1.55}}},
           {"data": {"values": [{}]}, "mark": {"type": "text", "text": "0.35%", "align": "left", "font": "Liberation Sans", "fontSize": 13, "color": "#222"}, "encoding": {"x": {"datum": 0.40}, "y": {"datum": 1.32}}},
           {"data": {"values": [{}]}, "mark": {"type": "rect", "fill": "#fff", "stroke": "#808080", "strokeWidth": 1}, "encoding": {"x": {"datum": -0.75}, "x2": {"datum": -0.44}, "y": {"datum": 0.67}, "y2": {"datum": 0.89}}},
           {"data": {"values": [{}]}, "mark": {"type": "text", "text": "TD", "font": "Liberation Sans", "fontSize": 11, "color": "#000"}, "encoding": {"x": {"datum": -0.595}, "y": {"datum": 0.78}}},
           {"data": {"values": [{}]}, "mark": {"type": "rect", "fill": "#c0c0c0", "stroke": "#555", "strokeWidth": 1}, "encoding": {"x": {"datum": 0.38}, "x2": {"datum": 0.88}, "y": {"datum": -1.41}, "y2": {"datum": -1.19}}},
           {"data": {"values": [{}]}, "mark": {"type": "text", "text": "MCC50mC", "font": "Liberation Sans", "fontSize": 11, "color": "#000"}, "encoding": {"x": {"datum": 0.63}, "y": {"datum": -1.30}}}
         ]},
         {"data": {"values": [{"r": 0}]}, "mark": {"type": "point", "opacity": 0}, "encoding": {"y": {"field": "r", "type": "quantitative", "title": null, "scale": {"domain": [-2.2, 2.2], "nice": false, "zero": false}, "axis": {"orient": "right", "values": [-2.2, -1.4667, -0.7333, 0, 0.7333, 1.4667, 2.2], "tickCount": 20, "labelExpr": "replace(format(datum.value,'.1f'),'−','-')", "grid": false, "ticks": true, "tickSize": 4, "tickColor": "#808080", "labelPadding": 3}}}}
        ]},
       {"width": 65, "height": 10, "data": {"values": []}, "mark": "point", "encoding": {}},
       {"width": 324, "height": 233, "view": {"stroke": "#808080", "strokeWidth": 1}, "resolve": {"scale": {"y": "independent"}},
        "title": {"text": "(c) Esbeltos (H/lw=2.0)", "orient": "bottom", "fontSize": 23, "offset": 16, "anchor": "middle", "frame": "group"},
        "layer": [
         {"layer": [
           {"data": {"values": [{}]}, "mark": {"type": "rule", "color": "#000", "strokeWidth": 0.8}, "encoding": {"x": {"datum": 0}}},
           {"data": {"values": [{}]}, "mark": {"type": "rule", "color": "#000", "strokeWidth": 0.8}, "encoding": {"y": {"datum": 0}}},
           {"data": {"name": "b3"}, "mark": {"type": "line", "color": "#222", "strokeWidth": 0.6, "clip": true},
            "encoding": {
             "x": {"field": "x", "type": "quantitative", "title": null, "scale": {"domain": [-0.9, 0.9], "nice": false, "zero": false}, "axis": {"values": [-0.9, -0.6, -0.3, 0, 0.3, 0.6, 0.9], "tickCount": 20, "grid": true, "labelExpr": "replace(format(datum.value,'.1f'),'−','-')"}},
             "y": {"field": "y", "type": "quantitative", "title": null, "scale": {"domain": [-1.5, 1.5], "nice": false, "zero": false}, "axis": {"values": [-1.5, -1, -0.5, 0, 0.5, 1, 1.5], "tickCount": 20, "grid": true, "labelExpr": "replace(format(datum.value,'.1f'),'−','-')"}},
             "order": {"value": null}}},
           {"data": {"name": "b3d"}, "mark": {"type": "circle", "color": "#555", "size": 24, "opacity": 1}, "encoding": {"x": {"field": "x", "type": "quantitative"}, "y": {"field": "y", "type": "quantitative"}}},
           {"data": {"values": [{}]}, "mark": {"type": "rule", "color": "#8c8c8c", "strokeWidth": 2, "strokeDash": [7, 4]}, "encoding": {"x": {"datum": -0.35}, "y": {"datum": -1.55}, "y2": {"datum": 1.55}}},
           {"data": {"values": [{}]}, "mark": {"type": "rule", "color": "#8c8c8c", "strokeWidth": 3, "strokeDash": [7, 4]}, "encoding": {"x": {"datum": 0.35}, "y": {"datum": -1.55}, "y2": {"datum": 1.55}}},
           {"data": {"values": [{}]}, "mark": {"type": "rule", "color": "#8c8c8c", "strokeWidth": 2, "strokeDash": [7, 4]}, "encoding": {"x": {"datum": -0.35}, "x2": {"datum": 0.35}, "y": {"datum": -1.55}}},
           {"data": {"values": [{}]}, "mark": {"type": "text", "text": "0.35%", "align": "left", "font": "Liberation Sans", "fontSize": 13, "color": "#222"}, "encoding": {"x": {"datum": 0.39}, "y": {"datum": 1.32}}},
           {"data": {"values": [{}]}, "mark": {"type": "rect", "fill": "#fff", "stroke": "#808080", "strokeWidth": 1}, "encoding": {"x": {"datum": -0.75}, "x2": {"datum": -0.44}, "y": {"datum": 0.67}, "y2": {"datum": 0.89}}},
           {"data": {"values": [{}]}, "mark": {"type": "text", "text": "TD", "font": "Liberation Sans", "fontSize": 11, "color": "#000"}, "encoding": {"x": {"datum": -0.595}, "y": {"datum": 0.78}}},
           {"data": {"values": [{}]}, "mark": {"type": "rect", "fill": "#c0c0c0", "stroke": "#555", "strokeWidth": 1}, "encoding": {"x": {"datum": 0.37}, "x2": {"datum": 0.92}, "y": {"datum": -1.41}, "y2": {"datum": -1.17}}},
           {"data": {"values": [{}]}, "mark": {"type": "text", "text": "MEN50mC", "font": "Liberation Sans", "fontSize": 11, "color": "#000"}, "encoding": {"x": {"datum": 0.645}, "y": {"datum": -1.29}}}
         ]},
         {"data": {"values": [{"r": 0}]}, "mark": {"type": "point", "opacity": 0}, "encoding": {"y": {"field": "r", "type": "quantitative", "title": null, "scale": {"domain": [-1.9, 1.9], "nice": false, "zero": false}, "axis": {"orient": "right", "values": [-1.9, -1.2667, -0.6333, 0, 0.6333, 1.2667, 1.9], "tickCount": 20, "labelExpr": "replace(format(datum.value,'.1f'),'−','-')", "grid": false, "ticks": true, "tickSize": 4, "tickColor": "#808080", "labelPadding": 3}}}}
        ]},
       {"width": 46, "height": 10, "data": {"values": []}, "mark": "point", "encoding": {}}
     ]}
   ]},
   {"width": 50, "height": 528, "view": {"stroke": "#000", "strokeWidth": 3}, "data": {"values": [{}]},
    "mark": {"type": "text", "text": "Esfuerzo cortante (MPA)", "angle": 90, "font": "Liberation Serif", "fontWeight": "bold", "fontSize": 28, "dx": 8, "dy": 4, "color": "#000"}, "encoding": {}}
 ]}
]
}
